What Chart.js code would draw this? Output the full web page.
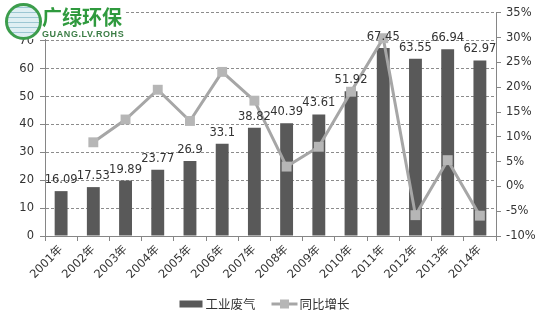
<!DOCTYPE html>
<html>
<head>
<meta charset="utf-8">
<script src="https://cdn.jsdelivr.net/npm/chart.js@4.4.0/dist/chart.umd.min.js"></script>
<style>
  html, body { margin: 0; padding: 0; background: #fff; }
  #wrap { position: relative; width: 547px; height: 317px; }
  #logo { position: absolute; left: 0; top: 0; width: 124px; height: 39px; background: #fff; }
  #globe { position: absolute; left: 5px; top: 3px; width: 31px; height: 31px; border-radius: 50%;
    border: 3px solid #3c9d4c; background: repeating-linear-gradient(0deg, #dfeff3 0 4px, #9cc7d3 4px 5px); }
  #logotext { position: absolute; left: 42px; top: 5px; font: bold 20px "Noto Sans CJK SC"; color: #2f9a3e; line-height: 24px; }
  #logosub { position: absolute; left: 42px; top: 29px; font: bold 9px "Liberation Sans"; color: #3b7d45; letter-spacing: 0.6px; }
</style>
</head>
<body>
<div id="wrap">
  <canvas id="chart" width="547" height="317"></canvas>
  <div id="logo">
    <div id="globe"></div>
    <div id="logotext">广绿环保</div>
    <div id="logosub">GUANG.LV.ROHS</div>
  </div>
</div>
<script>
var years = ["2001年", "2002年", "2003年", "2004年", "2005年", "2006年", "2007年", "2008年", "2009年", "2010年", "2011年", "2012年", "2013年", "2014年"];
var wasteGas = [16.09, 17.53, 19.89, 23.77, 26.9, 33.1, 38.82, 40.39, 43.61, 51.92, 67.45, 63.55, 66.94, 62.97];
var growth = [null, 8.9, 13.5, 19.5, 13.2, 23.1, 17.3, 4.0, 8.0, 19.1, 29.9, -5.8, 5.3, -5.9];
var seriesNames = ["工业废气", "同比增长"];

var fontFamily = "'DejaVu Sans', 'Noto Sans CJK SC', sans-serif";
var cjkFont = "'Noto Sans CJK SC', sans-serif";
var barColor = "#595959";
var lineColor = "#a6a6a6";
var markerColor = "#b6b6b6";
var axisColor = "#868686";
var textColor = "#333333";

// value labels over the bars
var barLabels = {
  id: "barLabels",
  afterDatasetsDraw: function(chart){
    var ctx = chart.ctx;
    var meta = chart.getDatasetMeta(0);
    ctx.save();
    ctx.font = "11.5px " + fontFamily;
    ctx.fillStyle = textColor;
    ctx.textAlign = "center";
    ctx.textBaseline = "alphabetic";
    meta.data.forEach(function(bar, i){
      ctx.fillText(String(wasteGas[i]), bar.x, bar.y - 8);
    });
    ctx.restore();
  }
};

// legend drawn by hand: bar swatch + line with square marker
var bottomLegend = {
  id: "bottomLegend",
  afterDraw: function(chart){
    var ctx = chart.ctx;
    ctx.save();
    ctx.font = "12.5px " + cjkFont;
    var w1 = ctx.measureText(seriesNames[0]).width;
    var w2 = ctx.measureText(seriesNames[1]).width;
    var total = 23 + 3 + w1 + 16 + 26 + 2 + w2;
    var x = (chart.chartArea.left + chart.chartArea.right) / 2 - total / 2 - 6;
    var y = chart.height - 13;

    ctx.fillStyle = barColor;
    ctx.fillRect(x, y - 3.5, 23, 7);
    x += 26;
    ctx.fillStyle = textColor;
    ctx.textBaseline = "middle";
    ctx.fillText(seriesNames[0], x, y);
    x += w1 + 16;

    ctx.strokeStyle = lineColor;
    ctx.lineWidth = 3;
    ctx.beginPath();
    ctx.moveTo(x, y);
    ctx.lineTo(x + 26, y);
    ctx.stroke();
    ctx.fillStyle = markerColor;
    ctx.fillRect(x + 13 - 4.5, y - 4.5, 9, 9);
    x += 28;
    ctx.fillStyle = textColor;
    ctx.fillText(seriesNames[1], x, y);
    ctx.restore();
  }
};

var chart = new Chart(document.getElementById("chart"), {
  type: "bar",
  data: {
    labels: years,
    datasets: [
      {
        label: seriesNames[0],
        data: wasteGas,
        backgroundColor: barColor,
        yAxisID: "y",
        categoryPercentage: 1,
        barPercentage: 0.4,
        order: 2
      },
      {
        type: "line",
        label: seriesNames[1],
        data: growth,
        borderColor: lineColor,
        borderWidth: 3,
        pointStyle: "rect",
        pointRadius: 7,
        pointBorderWidth: 0,
        pointBackgroundColor: markerColor,
        tension: 0,
        yAxisID: "y1",
        order: 1
      }
    ]
  },
  options: {
    responsive: false,
    animation: false,
    devicePixelRatio: 1,
    layout: {
      padding: { top: 12, right: 0, bottom: 30, left: 0 }
    },
    plugins: {
      legend: { display: false },
      tooltip: { enabled: false }
    },
    scales: {
      x: {
        grid: {
          offset: true,
          drawOnChartArea: false,
          drawTicks: true,
          tickLength: 5,
          tickColor: axisColor
        },
        border: { color: axisColor, width: 1 },
        ticks: {
          color: textColor,
          font: { family: fontFamily, size: 11.5 },
          maxRotation: 45,
          minRotation: 45,
          padding: 2,
          autoSkip: false
        },
        afterFit: function(scale){ scale.height = 51; }
      },
      y: {
        position: "left",
        min: 0,
        max: 80,
        ticks: {
          stepSize: 10,
          color: textColor,
          font: { family: fontFamily, size: 11.5 },
          padding: 6
        },
        grid: {
          color: "#8c8c8c",
          lineWidth: 1,
          tickLength: 5,
          tickColor: axisColor
        },
        border: { color: axisColor, width: 1, dash: [3, 2] },
        afterFit: function(scale){ scale.width = 45; }
      },
      y1: {
        position: "right",
        min: -10,
        max: 35,
        ticks: {
          stepSize: 5,
          color: textColor,
          font: { family: fontFamily, size: 11.5 },
          padding: 5,
          callback: function(v){ return v + "%"; }
        },
        grid: {
          drawOnChartArea: false,
          tickLength: 5,
          tickColor: axisColor
        },
        border: { color: axisColor, width: 1 },
        afterFit: function(scale){ scale.width = 51; }
      }
    }
  },
  plugins: [barLabels, bottomLegend]
});
</script>
</body>
</html>
